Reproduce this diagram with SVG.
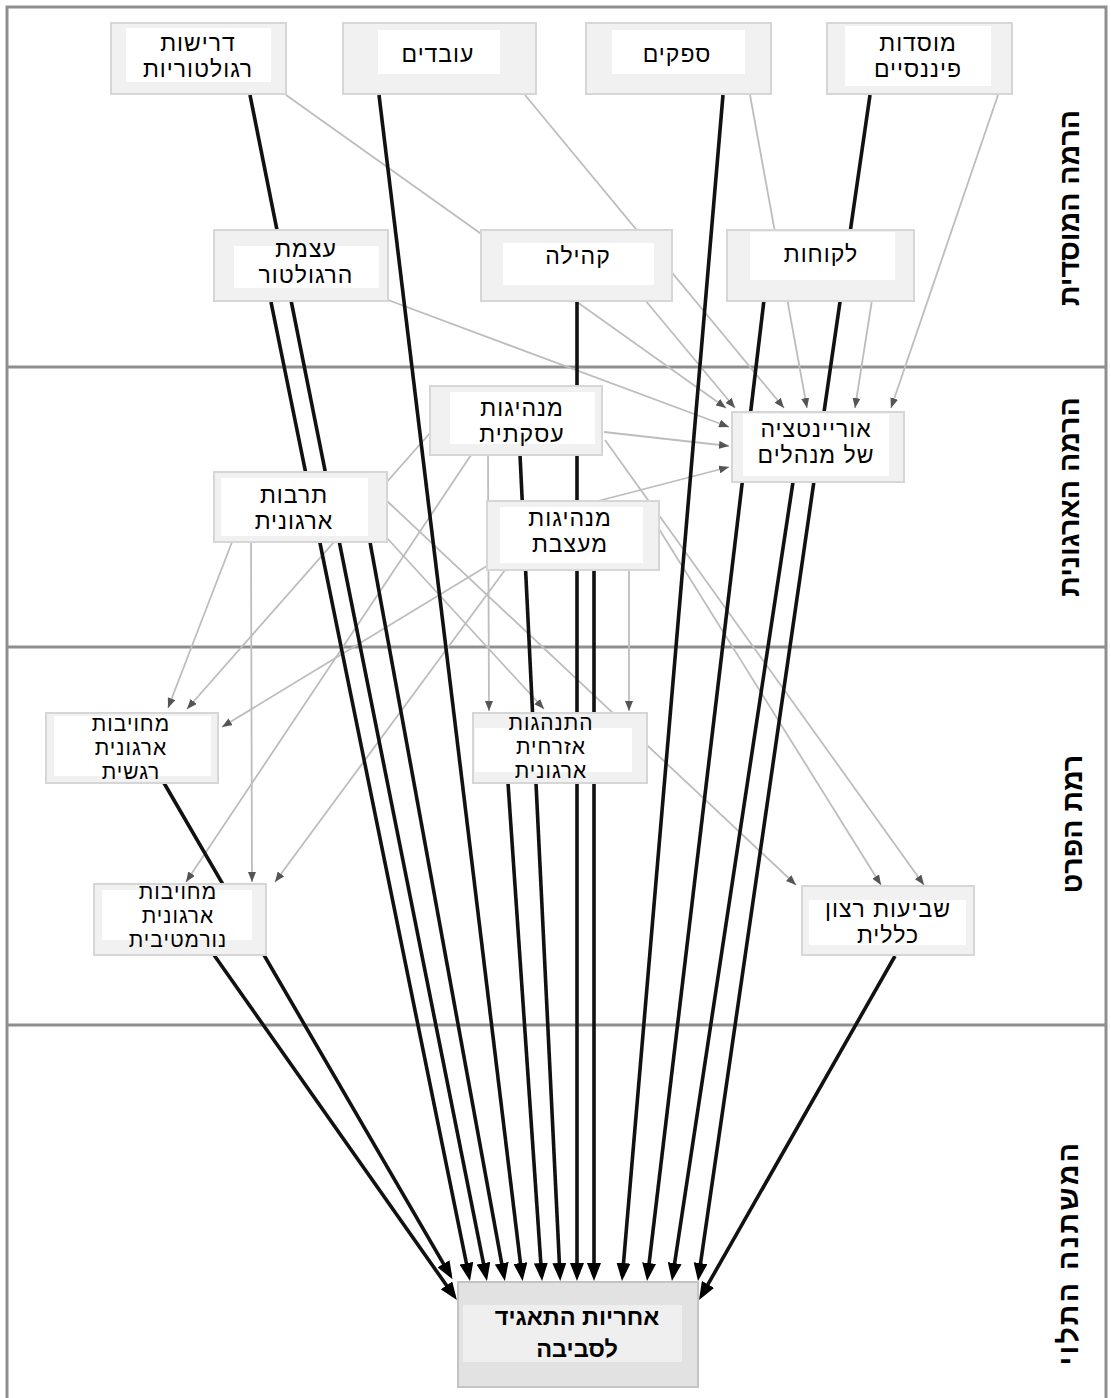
<svg xmlns="http://www.w3.org/2000/svg" width="1111" height="1398" viewBox="0 0 1111 1398">
<defs>
<style>
.lane{fill:none;stroke:#8f8f8f;stroke-width:3}
.box{fill:#f1f1f1;stroke:#d6d6d6;stroke-width:2}
.inner{fill:#ffffff}
.tbox{fill:#e2e2e2;stroke:#c4c4c4;stroke-width:2}
.tinner{fill:#efefef}
.t{font-family:"Liberation Sans","DejaVu Sans",sans-serif;font-size:23px;letter-spacing:1px;fill:#000;text-anchor:middle}
.t3{font-family:"Liberation Sans","DejaVu Sans",sans-serif;font-size:21px;letter-spacing:1px;fill:#000;text-anchor:middle}
.tb{font-family:"Liberation Sans","DejaVu Sans",sans-serif;font-size:23.5px;font-weight:bold;fill:#000;text-anchor:middle}
.lab{font-family:"Liberation Sans","DejaVu Sans",sans-serif;font-size:28.5px;font-weight:bold;fill:#000;text-anchor:middle;dominant-baseline:central}
.blk{stroke:#111;stroke-width:3.6;fill:none;marker-end:url(#ab)}
.gry{stroke:#bdbdbd;stroke-width:1.8;fill:none;marker-end:url(#ag)}
</style>
<marker id="ab" viewBox="0 0 18 14" refX="13" refY="7" markerWidth="18" markerHeight="14" markerUnits="userSpaceOnUse" orient="auto">
<path d="M0,0 L18,7 L0,14 z" fill="#000"/>
</marker>
<marker id="ag" viewBox="0 0 10 8" refX="10" refY="4" markerWidth="10" markerHeight="8" markerUnits="userSpaceOnUse" orient="auto">
<path d="M0,0 L10,4 L0,8 z" fill="#555"/>
</marker>
</defs>
<rect width="1111" height="1398" fill="#fff"/>
<g id="lanes">
<path class="lane" d="M7,1400 L7,7 L1106,7 L1106,1400"/>
<line class="lane" x1="7" y1="367" x2="1106" y2="367"/>
<line class="lane" x1="7" y1="647" x2="1106" y2="647"/>
<line class="lane" x1="7" y1="1025" x2="1106" y2="1025"/>
<text class="lab" transform="translate(1069,208) rotate(-90)">הרמה המוסדית</text>
<text class="lab" transform="translate(1069,497) rotate(-90)">הרמה הארגונית</text>
<text class="lab" transform="translate(1072,824) rotate(-90)">רמת הפרט</text>
<text class="lab" style="letter-spacing:2.5px" transform="translate(1068,1253) rotate(-90)">המשתנה התלוי</text>
</g>
<g id="connectors">
<line class="gry" x1="286" y1="95" x2="726" y2="408"/>
<line class="gry" x1="645" y1="300" x2="735" y2="408"/>
<line class="gry" x1="525" y1="95" x2="784" y2="408"/>
<line class="gry" x1="750" y1="95" x2="807" y2="408"/>
<line class="gry" x1="872" y1="300" x2="855" y2="408"/>
<line class="gry" x1="998" y1="95" x2="891" y2="408"/>
<line class="gry" x1="388" y1="300" x2="729" y2="427"/>
<line class="gry" x1="604" y1="432" x2="729" y2="446"/>
<line class="gry" x1="598" y1="501" x2="729" y2="467"/>
<line class="gry" x1="232" y1="542" x2="168" y2="708"/>
<line class="gry" x1="251" y1="542" x2="252" y2="882"/>
<line class="gry" x1="430" y1="433" x2="187" y2="709"/>
<line class="gry" x1="487" y1="566" x2="222" y2="727"/>
<line class="gry" x1="471" y1="455" x2="186" y2="882"/>
<line class="gry" x1="505" y1="570" x2="275" y2="882"/>
<line class="gry" x1="488" y1="455" x2="489" y2="711"/>
<line class="gry" x1="629" y1="570" x2="629" y2="711"/>
<line class="gry" x1="387" y1="538" x2="544" y2="709"/>
<line class="gry" x1="387" y1="501" x2="796" y2="885"/>
<line class="gry" x1="659" y1="529" x2="881" y2="885"/>
<line class="gry" x1="605" y1="440" x2="924" y2="885"/>
<line class="blk" x1="164" y1="783" x2="450" y2="1275"/>
<line class="blk" x1="214" y1="955" x2="454" y2="1296"/>
<line class="blk" x1="271" y1="302" x2="469" y2="1276"/>
<line class="blk" x1="250" y1="95" x2="486" y2="1276"/>
<line class="blk" x1="370" y1="542" x2="504" y2="1276"/>
<line class="blk" x1="379" y1="95" x2="522" y2="1276"/>
<line class="blk" x1="508" y1="783" x2="541.7" y2="1276"/>
<line class="blk" x1="520" y1="455" x2="560" y2="1276"/>
<line class="blk" x1="577" y1="300" x2="577" y2="1276"/>
<line class="blk" x1="594" y1="570" x2="594" y2="1276"/>
<line class="blk" x1="723" y1="95" x2="622.4" y2="1276"/>
<line class="blk" x1="764" y1="300" x2="647.6" y2="1276"/>
<line class="blk" x1="793" y1="482" x2="672.7" y2="1276"/>
<line class="blk" x1="870" y1="95" x2="698.7" y2="1276"/>
<line class="blk" x1="895" y1="956" x2="701.5" y2="1295.7"/>
</g>
<g id="n1"><rect class="box" x="111" y="23" width="175" height="71"/><rect class="inner" x="126" y="28" width="145" height="54"/><text class="t"><tspan x="198" y="51">דרישות</tspan><tspan x="198" y="77">רגולטוריות</tspan></text></g>
<g id="n2"><rect class="box" x="343" y="23" width="193" height="71"/><rect class="inner" x="378" y="30" width="122" height="44"/><text class="t" x="438" y="62">עובדים</text></g>
<g id="n3"><rect class="box" x="586" y="23" width="185" height="71"/><rect class="inner" x="612" y="30" width="133" height="44"/><text class="t" x="677" y="62">ספקים</text></g>
<g id="n4"><rect class="box" x="827" y="23" width="185" height="71"/><rect class="inner" x="845" y="26" width="146" height="60"/><text class="t"><tspan x="918" y="51">מוסדות</tspan><tspan x="918" y="77">פיננסיים</tspan></text></g>
<g id="n5"><rect class="box" x="214" y="230" width="174" height="71"/><rect class="inner" x="234" y="246" width="145" height="42"/><text class="t"><tspan x="306" y="257">עצמת</tspan><tspan x="306" y="283">הרגולטור</tspan></text></g>
<g id="n6"><rect class="box" x="481" y="230" width="191" height="71"/><rect class="inner" x="503" y="243" width="151" height="42"/><text class="t" x="578" y="264">קהילה</text></g>
<g id="n7"><rect class="box" x="727" y="230" width="187" height="71"/><rect class="inner" x="750" y="232" width="145" height="48"/><text class="t" x="821" y="262">לקוחות</text></g>
<g id="n8"><rect class="box" x="430" y="386" width="172" height="69"/><rect class="inner" x="450" y="392" width="145" height="52"/><text class="t"><tspan x="522" y="416">מנהיגות</tspan><tspan x="522" y="442">עסקתית</tspan></text></g>
<g id="n9"><rect class="box" x="732" y="412" width="172" height="70"/><rect class="inner" x="743" y="414" width="146" height="62"/><text class="t"><tspan x="816" y="437">אוריינטציה</tspan><tspan x="816" y="463">של מנהלים</tspan></text></g>
<g id="n10"><rect class="box" x="214" y="472" width="173" height="70"/><rect class="inner" x="221" y="478" width="147" height="58"/><text class="t"><tspan x="294" y="503">תרבות</tspan><tspan x="294" y="529">ארגונית</tspan></text></g>
<g id="n11"><rect class="box" x="487" y="501" width="172" height="69"/><rect class="inner" x="500" y="507" width="143" height="56"/><text class="t"><tspan x="570" y="526">מנהיגות</tspan><tspan x="570" y="552">מעצבת</tspan></text></g>
<g id="n12"><rect class="box" x="46" y="713" width="172" height="70"/><rect class="inner" x="54" y="716" width="157" height="60"/><text class="t3"><tspan x="131" y="731">מחויבות</tspan><tspan x="131" y="755">ארגונית</tspan><tspan x="131" y="779">רגשית</tspan></text></g>
<g id="n13"><rect class="box" x="473" y="713" width="174" height="70"/><rect class="inner" x="475" y="728" width="157" height="44"/><text class="t3"><tspan x="551" y="730">התנהגות</tspan><tspan x="551" y="754">אזרחית</tspan><tspan x="551" y="778">ארגונית</tspan></text></g>
<g id="n14"><rect class="box" x="94" y="884" width="172" height="71"/><rect class="inner" x="102" y="890" width="150" height="50"/><text class="t3"><tspan x="178" y="899">מחויבות</tspan><tspan x="178" y="923">ארגונית</tspan><tspan x="178" y="947">נורמטיבית</tspan></text></g>
<g id="n15"><rect class="box" x="802" y="886" width="172" height="69"/><rect class="inner" x="809" y="900" width="157" height="45"/><text class="t"><tspan x="888" y="917">שביעות רצון</tspan><tspan x="888" y="943">כללית</tspan></text></g>
<g id="n16"><rect class="tbox" x="458" y="1282" width="240" height="105"/><rect class="tinner" x="463" y="1305" width="219" height="57"/><text class="tb"><tspan x="577" y="1325">אחריות התאגיד</tspan><tspan x="577" y="1357">לסביבה</tspan></text></g>
</svg>
